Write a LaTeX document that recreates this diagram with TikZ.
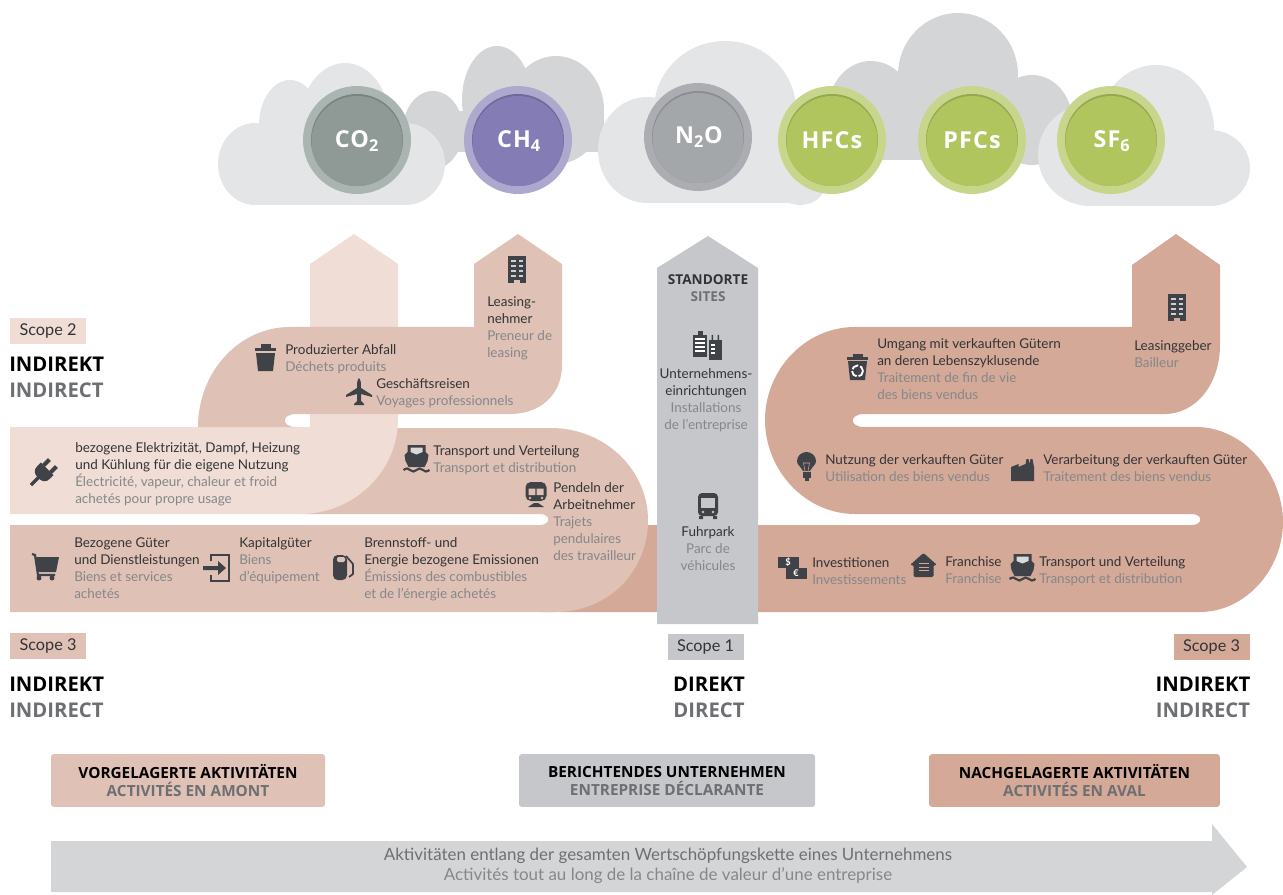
\documentclass[tikz,border=0pt]{standalone}
\usepackage{fontspec}
\setmainfont{Lato}
\newfontfamily\headfont{Open Sans}
\newfontfamily\gasfont{Open Sans}[LetterSpace=5]
\usetikzlibrary{positioning}
\definecolor{palebr}{HTML}{F0DDD6}
\definecolor{midbr}{HTML}{E0C1B5}
\definecolor{darkbr}{HTML}{D4A998}
\definecolor{sitegray}{HTML}{C5C7CA}
\definecolor{cloudlight}{HTML}{E4E5E7}
\definecolor{cloudmid}{HTML}{D4D5D7}
\definecolor{icondark}{HTML}{3F4246}
\definecolor{detxt}{HTML}{333336}
\definecolor{frtxt}{HTML}{85878A}
\definecolor{headgray}{HTML}{6D6F72}
\newcommand{\frz}[1]{\textcolor{frtxt}{#1}}
\tikzstyle{lbl}=[inner sep=0pt,anchor=north west,yshift=-2.6pt,align=left,text=detxt,font=\fontsize{10.1}{12.8}\selectfont]
\tikzstyle{lblc}=[lbl,anchor=north,align=center]
\tikzstyle{scopebox}=[minimum width=57pt,minimum height=19.5pt,inner sep=0pt,text=detxt,font=\fontsize{12.2}{13}\selectfont]
\tikzstyle{headbig}=[inner sep=0pt,align=left,font=\headfont\bfseries\fontsize{15.2}{19.5}\selectfont]
\tikzstyle{actbox}=[rounded corners=2pt,minimum height=39.5pt,inner sep=0pt,align=center,font=\headfont\bfseries\fontsize{11.5}{13.5}\selectfont]
\tikzstyle{gasname}=[text=white,inner sep=0pt,font=\gasfont\bfseries\fontsize{17.5}{18}\selectfont]
\tikzstyle{icon}=[fill=icondark,draw=none]
\tikzstyle{iconline}=[draw=icondark,line width=1.6pt]
\tikzset{
  building/.pic={
    \fill[icon] (-9,-14) rectangle (9,13);
    \fill[midbr] (-3,13) rectangle (3,10);
    \foreach \yy in {-10,-5,0,5}{
      \fill[white,opacity=0.75] (-6,\yy) rectangle (-1.5,\yy+2);
      \fill[white,opacity=0.75] (1.5,\yy) rectangle (6,\yy+2);
    }
  },
  trash/.pic={
    \fill[icon] (-10.5,-9) rectangle (10.5,-6);
    \fill[icon] (-5,-13) rectangle (5,-9);
    \fill[icon] (-9.5,-4) -- (9.5,-4) -- (7.5,14) -- (-7.5,14) -- cycle;
  },
  recyclebin/.pic={
    \fill[icon] (-10.5,-10) rectangle (10.5,-7);
    \fill[icon] (-5,-13) rectangle (5,-10);
    \fill[icon] (-9.5,-6) -- (9.5,-6) -- (7.5,13) -- (-7.5,13) -- cycle;
    \draw[white,line width=1.4pt,dash pattern=on 5.5pt off 1.5pt] (0,4) circle [radius=5.5];
  },
  plane/.pic={
    \fill[icon] (0,-14) .. controls (2,-12) and (2,-8) .. (2,-4) -- (13,3) -- (13,5) -- (2,2) -- (2,9) -- (5,12) -- (5,13) -- (-5,13) -- (-5,12) -- (-2,9) -- (-2,2) -- (-13,5) -- (-13,3) -- (-2,-4) .. controls (-2,-8) and (-2,-12) .. (0,-14) -- cycle;
  },
  ship/.pic={
    \fill[icon] (-9,-13) -- (9,-13) -- (9,-6) -- (12,-3) -- (11,3) -- (8,9) -- (-8,9) -- (-11,3) -- (-12,-3) -- (-9,-6) -- cycle;
    \fill[white,opacity=0.8] (-6,-10.5) -- (6,-10.5) -- (6,-6) -- (0,-3.5) -- (-6,-6) -- cycle;
    \draw[iconline] (-13,12) .. controls (-10,10) and (-8,10) .. (-6.5,12) .. controls (-4,14) and (-2,14) .. (0,12) .. controls (2,10) and (4,10) .. (6.5,12) .. controls (8,14) and (10,14) .. (13,12);
  },
  train/.pic={
    \fill[icon,rounded corners=4pt] (-10.5,-13) rectangle (10.5,6);
    \fill[midbr] (-7.5,-6.5) rectangle (-0.7,0) (0.7,-6.5) rectangle (7.5,0);
    \fill[midbr] (-6,3) circle [radius=1.3] (6,3) circle [radius=1.3];
    \fill[icon] (-8,12) -- (8,12) -- (2,8) -- (-2,8) -- cycle;
  },
  cart/.pic={
    \draw[iconline] (-14,-13) -- (-11,-12) -- (-8,8) -- (9,8);
    \fill[icon] (-11,-10) -- (13,-10) -- (10,5) -- (-8,5) -- cycle;
    \fill[icon] (-7,11) circle [radius=2.5] (6,11) circle [radius=2.5];
  },
  loginbox/.pic={
    \draw[iconline,line width=2pt] (-6,-6) -- (-6,-12) -- (12,-12) -- (12,14) -- (-6,14) -- (-6,8);
    \fill[icon] (-14,-1) -- (1,-1) -- (1,-6) -- (9,1) -- (1,8) -- (1,3) -- (-14,3) -- cycle;
  },
  fuelpump/.pic={
    \fill[icon,rounded corners=3.5pt] (-10,-13) rectangle (4,12);
    \fill[midbr,rounded corners=1pt] (-6,-11) rectangle (2,-6);
    \draw[iconline,line width=1.3pt] (3,-12) -- (10,-4) -- (10,6) -- (6,9);
  },
  towers/.pic={
    \fill[icon] (-14.5,-11) rectangle (-0.5,11);
    \fill[icon] (-10,-15) rectangle (-5,-11);
    \fill[icon] (1,-6) rectangle (14.5,14);
    \fill[icon] (4,-11) rectangle (5.5,-6) (10,-11) rectangle (11.5,-6);
    \foreach \yy in {-8,-4,0,4}{
      \fill[white] (-12.5,\yy) rectangle (-3,\yy+1.8);
    }
    \foreach \yy in {-2,2,6}{
      \fill[white] (3,\yy) rectangle (7,\yy+1.6);
    }
  },
  busicon/.pic={
    \fill[icon,rounded corners=3pt] (-10,-13) rectangle (10,10);
    \fill[icon] (-9,10) rectangle (-5,13) (5,10) rectangle (9,13);
    \fill[sitegray] (-7,-8) rectangle (7,2);
    \fill[sitegray] (-5,6) circle [radius=1.4] (5,6) circle [radius=1.4];
  },
  bulb/.pic={
    \fill[icon] (-3.5,5) .. controls (-6,0) and (-9.5,-1) .. (-9.5,-5) .. controls (-9.5,-10) and (-5,-14) .. (0,-14) .. controls (5,-14) and (9.5,-10) .. (9.5,-5) .. controls (9.5,-1) and (6,0) .. (3.5,5) -- cycle;
    \fill[icon] (-4,6) rectangle (4,12);
    \fill[icon] (-2,12) rectangle (2,15);
    \draw[darkbr,line width=0.4pt] (-1.5,5) -- (-3,-3) -- (3,-3) -- (1.5,5);
  },
  factory/.pic={
    \fill[icon] (-11.5,11) -- (-11.5,-3) -- (-4,-6) -- (-4,-3) -- (3,-6) -- (4,-11) -- (6,-11) -- (7,-6) -- (8,-11) -- (10,-11) -- (11.5,-3) -- (11.5,11) -- cycle;
  },
  moneyicon/.pic={
    \fill[icon] (-14.5,-11) rectangle (6.5,0);
    \fill[icon] (-6.5,0) rectangle (14.5,11);
    \node[inner sep=0pt,text=white,font=\bfseries\fontsize{7}{8}\selectfont] (dollar) at (-4.5,-5.5) {\$};
    \node[inner sep=0pt,text=white,font=\bfseries\fontsize{7}{8}\selectfont] (euro) at (3.5,5.5) {€};
  },
  houseicon/.pic={
    \fill[icon,rounded corners=1pt] (-13.5,0) -- (0,-12) -- (13.5,0) -- (10,0) -- (10,12) -- (-10,12) -- (-10,0) -- cycle;
    \foreach \yy in {-2,1.5,5}{
      \fill[darkbr] (-5,\yy) rectangle (5,\yy+1.3);
    }
  },
  plug/.pic={
    \fill[icon] (-6,-9) -- (-1,-9) .. controls (5,-9) and (7,-5) .. (7,0) .. controls (7,5) and (5,9) .. (-1,9) -- (-6,9) -- cycle;
    \fill[icon] (-14,-7) rectangle (-6,-3) (-14,3) rectangle (-6,7);
    \draw[iconline,line width=2.4pt] (6,0) -- (17,0);
  }
}
\begin{document}
\begin{tikzpicture}[x=0.75pt,y=-0.75pt]
\useasboundingbox (0,0) rectangle (1283,895);
% clouds behind
\foreach \ex/\ey/\erx/\ery in {497/100/35/54,556/110/48/54,433/130/30/39,958/75/60/62,871/110/43/49,1032/120/40/45}{
  \fill[cloudmid] (\ex,\ey) ellipse [x radius=\erx,y radius=\ery];
}
\fill[cloudmid] (430,111) rectangle (604,152);
\fill[cloudmid] (830,110) rectangle (1072,160);
% clouds in front
\foreach \ex/\ey/\erx/\ery in {255/164/37/41,290/125/31/45,345/123/45/60,405/164/40/41,725/110/71/69,647/150/49/53,800/185/25/20,1156/130/58/65,1210/168/40/38,1090/155/52/51}{
  \fill[cloudlight] (\ex,\ey) ellipse [x radius=\erx,y radius=\ery];
}
\fill[cloudlight] (255,140) rectangle (405,205);
\fill[cloudlight] (647,130) rectangle (800,203);
\fill[cloudlight] (1090,150) rectangle (1210,206);
% gases
\foreach \cx/\cy/\ca/\cb in {357/140/AAB5B2/8F9A97,518/140/ADA8CE/847DB5,698/137/ABADB2/A4A7AA,832/140/C7D68A/B1C55E,972/140/C7D68A/B1C55E,1111/140/C7D68A/B1C55E}{
  \definecolor{ringc}{HTML}{\ca}
  \definecolor{corec}{HTML}{\cb}
  \fill[ringc] (\cx,\cy) circle [radius=54];
  \fill[corec!85!black] (\cx,\cy) circle [radius=46];
  \begin{scope}
  \clip (\cx,\cy) circle [radius=46];
  \fill[corec] (\cx,\cy+1.5) circle [radius=45.5];
  \end{scope}
}
\node[gasname] (co2) at (357,141) {CO\textsubscript{2}};
\node[gasname] (ch4) at (519,141) {CH\textsubscript{4}};
\node[gasname] (n2o) at (699,137) {N\textsubscript{2}O};
\node[gasname] (hfc) at (832,140) {HFCs};
\node[gasname] (pfc) at (972,140) {PFCs};
\node[gasname] (sf6) at (1112,141) {SF\textsubscript{6}};
% right band
\fill[darkbr] (1132,265) -- (1176,234) -- (1220,265) -- (1220,345) .. controls (1220,385) and (1195,414) .. (1165,414)
  -- (864,414) .. controls (849,414) and (849,427) .. (864,427) -- (1196,427) .. controls (1245,427) and (1283,475) .. (1283,522)
  .. controls (1283,570) and (1245,612) .. (1200,612) -- (540,612) -- (540,525) -- (1192,525) .. controls (1203,525) and (1203,514) .. (1192,514)
  -- (855,514) .. controls (805,514) and (765,470) .. (765,420) .. controls (765,370) and (805,327) .. (855,327) -- (1132,327) -- cycle;
% left lower band
\fill[midbr] (300,428) -- (551,428) .. controls (605,428) and (648,470) .. (648,520) .. controls (648,570) and (610,612) .. (555,612)
  -- (10,612) -- (10,525) -- (540,525) .. controls (551,525) and (551,514) .. (540,514) -- (300,514) -- cycle;
% pale arrow and band
\fill[palebr] (10,427) -- (310,427) -- (310,264) -- (354,234) -- (398,264) -- (398,420) .. controls (398,470) and (355,514) .. (300,514) -- (10,514) -- cycle;
% left upper band
\fill[midbr] (474,264) -- (518,234) -- (562,264) -- (562,365) .. controls (562,395) and (540,414) .. (510,414) -- (296,414)
  .. controls (281,414) and (281,427) .. (296,427) -- (198,427) .. controls (198,372) and (239,327) .. (290,327) -- (474,327) -- cycle;
% sites arrow
\fill[sitegray] (657,268) -- (708,236) -- (758,268) -- (758,624) -- (657,624) -- cycle;
% value chain arrow
\fill[cloudmid] (51,841) -- (1212,841) -- (1212,824) -- (1247,867) -- (1212,895) -- (1212,892) -- (51,892) -- cycle;
% icons
\pic at (517,270) {building};
\begin{scope}
\colorlet{midbr}{darkbr}
\pic at (1177,308) {building};
\pic at (1022.5,567) {ship};
\end{scope}
\pic at (265.5,357) {trash};
\pic at (857.5,367) {recyclebin};
\pic at (359,392) {plane};
\pic at (416.5,458) {ship};
\pic at (536,495) {train};
\pic at (46,567) {cart};
\pic at (217,567) {loginbox};
\pic at (343,568) {fuelpump};
\pic at (707.5,346) {towers};
\pic at (708,506) {busicon};
\pic at (806.5,466) {bulb};
\pic at (1022.5,470) {factory};
\pic at (792.5,568) {moneyicon};
\pic at (923.5,565) {houseicon};
\pic[rotate=225] at (43,473) {plug};
% labels
\node[scopebox,fill=palebr] (s2) at (48,331) {Scope 2};
\node[scopebox,fill=midbr] (s3l) at (48,646) {Scope 3};
\node[scopebox,fill=sitegray] (s1) at (705.5,647) {Scope 1};
\node[scopebox,fill=darkbr] (s3r) at (1211.5,647) {Scope 3};
\node[headbig,anchor=north west] (indl) at (9,357) {INDIREKT\\\textcolor{headgray}{INDIRECT}};
\node[headbig,anchor=north west] (indm) at (9,677) {INDIREKT\\\textcolor{headgray}{INDIRECT}};
\node[headbig,anchor=north,align=center] (dir) at (709,677) {DIREKT\\\textcolor{headgray}{DIRECT}};
\node[headbig,anchor=north,align=center] (indr) at (1203,677) {INDIREKT\\\textcolor{headgray}{INDIRECT}};
\node[lbl] (elec) at (75,439) {bezogene Elektrizität, Dampf, Heizung\\und Kühlung für die eigene Nutzung\\\frz{Électricité, vapeur, chaleur et froid}\\\frz{achetés pour propre usage}};
\node[lbl] (waste) at (285,341) {Produzierter Abfall\\\frz{Déchets produits}};
\node[lbl] (trip) at (376,375) {Geschäftsreisen\\\frz{Voyages professionnels}};
\node[lbl] (lessee) at (487,293) {Leasing-\\nehmer\\\frz{Preneur de}\\\frz{leasing}};
\node[lbl] (upship) at (433,442) {Transport und Verteilung\\\frz{Transport et distribution}};
\node[lbl] (commute) at (553,479) {Pendeln der\\Arbeitnehmer\\\frz{Trajets}\\\frz{pendulaires}\\\frz{des travailleur}};
\node[lbl] (goods) at (74,534) {Bezogene Güter\\und Dienstleistungen\\\frz{Biens et services}\\\frz{achetés}};
\node[lbl] (capital) at (239,534) {Kapitalgüter\\\frz{Biens}\\\frz{d’équipement}};
\node[lbl] (fuel) at (364,534) {Brennstoff- und\\Energie bezogene Emissionen\\\frz{Émissions des combustibles}\\\frz{et de l’énergie achetés}};
\node[lblc,font=\headfont\bfseries\fontsize{10.2}{12.8}\selectfont] (sites) at (708,271) {STANDORTE\\\textcolor{headgray}{SITES}};
\node[lblc] (facil) at (706,365) {Unternehmens-\\einrichtungen\\\frz{Installations}\\\frz{de l’entreprise}};
\node[lblc] (fleet) at (708,523) {Fuhrpark\\\frz{Parc de}\\\frz{véhicules}};
\node[lbl] (eol) at (877,335) {Umgang mit verkauften Gütern\\an deren Lebenszyklusende\\\frz{Traitement de fin de vie}\\\frz{des biens vendus}};
\node[lbl] (lessor) at (1134,337) {Leasinggeber\\\frz{Bailleur}};
\node[lbl] (usage) at (825,451) {Nutzung der verkauften Güter\\\frz{Utilisation des biens vendus}};
\node[lbl] (process) at (1043,451) {Verarbeitung der verkauften Güter\\\frz{Traitement des biens vendus}};
\node[lbl] (invest) at (812,554) {Investitionen\\\frz{Investissements}};
\node[lbl] (franch) at (945,553) {Franchise\\\frz{Franchise}};
\node[lbl] (dnship) at (1039,553) {Transport und Verteilung\\\frz{Transport et distribution}};
\node[actbox,fill=midbr,minimum width=205.5pt,text=black] (up) at (188,780.5) {\rule{0pt}{9.5pt}VORGELAGERTE AKTIVITÄTEN\\\textcolor{headgray}{ACTIVITÉS EN AMONT}};
\node[actbox,fill=sitegray,minimum width=222pt,text=black] (rep) at (667,780.5) {\rule{0pt}{9.5pt}BERICHTENDES UNTERNEHMEN\\\textcolor{headgray}{ENTREPRISE DÉCLARANTE}};
\node[actbox,fill=darkbr,minimum width=218pt,text=black] (down) at (1074.5,780.5) {\rule{0pt}{9.5pt}NACHGELAGERTE AKTIVITÄTEN\\\textcolor{headgray}{ACTIVITÉS EN AVAL}};
\node[inner sep=0pt,align=center,text=headgray,font=\fontsize{12.7}{15}\selectfont] (chain) at (668,866) {Aktivitäten entlang der gesamten Wertschöpfungskette eines Unternehmens\\\textcolor{frtxt}{Activités tout au long de la chaîne de valeur d’une entreprise}};
\end{tikzpicture}
\end{document}
